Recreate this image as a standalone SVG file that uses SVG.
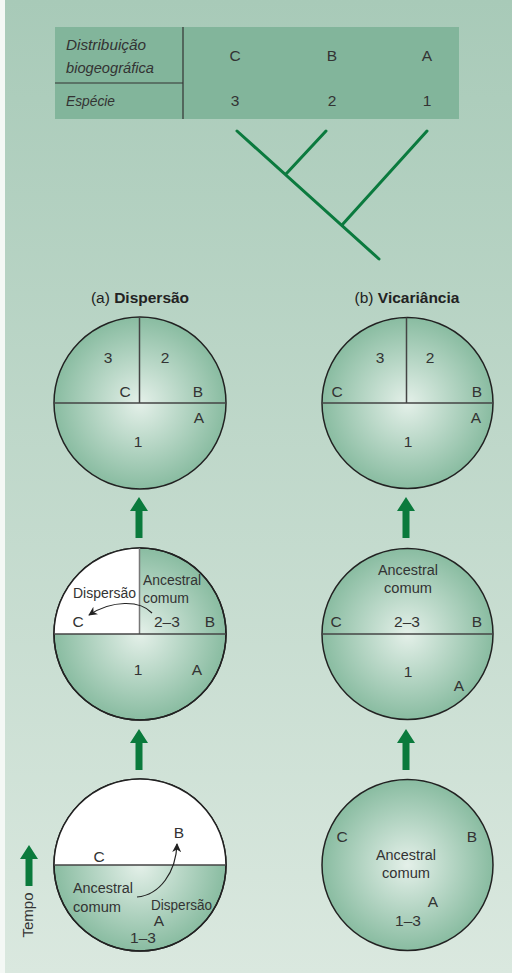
<svg xmlns="http://www.w3.org/2000/svg" width="512" height="973" viewBox="0 0 512 973">
<style>
text{font-family:"Liberation Sans",Arial,sans-serif;fill:#333;font-size:15.5px}
.tb{font-size:15.5px}
.it{font-style:italic}
.m{text-anchor:middle}
.ttl{font-size:15.5px;fill:#222}
.b{font-weight:bold}
.rim{stroke:#222;stroke-width:1.5}
.div{stroke:#444;stroke-width:1.5;fill:none}
.tree{stroke:#0b7a3e;stroke-width:3;stroke-linecap:round;fill:none}
.big{fill:#0a7a3c}
.thin{stroke:#222;stroke-width:1.2;fill:none}
</style>
<defs>
<linearGradient id="bg" x1="0" y1="0" x2="0" y2="1">
<stop offset="0" stop-color="#a8cab8"/>
<stop offset="1" stop-color="#dae8df"/>
</linearGradient>
<radialGradient id="globe" cx="0.5" cy="0.5" r="0.5">
<stop offset="0" stop-color="#e4f0e9"/>
<stop offset="1" stop-color="#89bca1"/>
</radialGradient>
<path id="up" d="M0,0 L9,14 L3.5,14 L3.5,41 L-3.5,41 L-3.5,14 L-9,14 Z"/>
<marker id="ah" viewBox="0 0 10 10" refX="9" refY="5" markerWidth="9" markerHeight="9" markerUnits="userSpaceOnUse" orient="auto">
<path d="M0,0 L10,5 L0,10 L3,5 Z" fill="#222"/>
</marker>
</defs>
<rect x="0" y="0" width="512" height="973" fill="#f4f8f5"/>
<rect x="5" y="0" width="507" height="973" fill="url(#bg)"/>

<g id="table">
<rect x="55" y="27" width="404" height="92" fill="#82b59b"/>
<line x1="183" y1="27" x2="183" y2="119" stroke="#333" stroke-width="1.2"/>
<line x1="55" y1="83" x2="183" y2="83" stroke="#333" stroke-width="1.2"/>
<text class="tb it" x="66" y="50" textLength="80" lengthAdjust="spacingAndGlyphs">Distribuição</text>
<text class="tb it" x="66" y="73" textLength="88" lengthAdjust="spacingAndGlyphs">biogeográfica</text>
<text class="tb it" x="66" y="106" textLength="49" lengthAdjust="spacingAndGlyphs">Espécie</text>
<text class="tb m" x="235" y="61">C</text>
<text class="tb m" x="332" y="61">B</text>
<text class="tb m" x="427" y="61">A</text>
<text class="tb m" x="235" y="106">3</text>
<text class="tb m" x="332" y="106">2</text>
<text class="tb m" x="427" y="106">1</text>
</g>

<g id="cladogram">
<path class="tree" d="M237,131 L379,259 M286,174 L326,131 M342,225 L427,131"/>
</g>

<text class="ttl m" x="140" y="303">(a) <tspan class="b">Dispersão</tspan></text>
<text class="ttl m" x="407" y="303">(b) <tspan class="b">Vicariância</tspan></text>

<g id="a1">
<circle cx="140" cy="403" r="86" fill="url(#globe)" class="rim"/>
<path class="div" d="M139.5,317 V403 M54,403 H226"/>
<text class="m" x="108" y="363">3</text>
<text class="m" x="165" y="363">2</text>
<text class="m" x="125" y="397">C</text>
<text class="m" x="198" y="397">B</text>
<text class="m" x="199" y="423">A</text>
<text class="m" x="138" y="447">1</text>
</g>

<g id="b1">
<circle cx="407.5" cy="403" r="85.5" fill="url(#globe)" class="rim"/>
<path class="div" d="M406.5,317.5 V403 M322,403 H493"/>
<text class="m" x="380" y="363">3</text>
<text class="m" x="430" y="363">2</text>
<text class="m" x="337" y="397">C</text>
<text class="m" x="477" y="397">B</text>
<text class="m" x="476" y="423">A</text>
<text class="m" x="408" y="447">1</text>
</g>

<g id="a2">
<circle cx="140" cy="634" r="86" fill="url(#globe)" class="rim"/>
<path d="M139.5,634 L54,634 A86,86 0 0 1 139.5,548 Z" fill="#fff"/>
<circle cx="140" cy="634" r="86" fill="none" class="rim"/>
<path d="M139.5,548 V634" stroke="#777" stroke-width="1.5"/>
<path class="div" d="M54,634 H226"/>
<text x="143" y="585" textLength="58" lengthAdjust="spacingAndGlyphs">Ancestral</text>
<text x="143" y="603" textLength="46" lengthAdjust="spacingAndGlyphs">comum</text>
<text x="73" y="598" textLength="63" lengthAdjust="spacingAndGlyphs">Dispersão</text>
<text class="m" x="78" y="627">C</text>
<text x="154" y="627">2–3</text>
<text class="m" x="210" y="627">B</text>
<text class="m" x="138" y="675">1</text>
<text class="m" x="197" y="675">A</text>
</g>

<g id="b2">
<circle cx="407.5" cy="634" r="85.5" fill="url(#globe)" class="rim"/>
<path class="div" d="M322,634 H493"/>
<text class="m" x="408" y="575" textLength="60" lengthAdjust="spacingAndGlyphs">Ancestral</text>
<text class="m" x="408" y="593" textLength="48" lengthAdjust="spacingAndGlyphs">comum</text>
<text class="m" x="336" y="627">C</text>
<text class="m" x="407" y="627">2–3</text>
<text class="m" x="477" y="627">B</text>
<text class="m" x="408" y="677">1</text>
<text class="m" x="459" y="691">A</text>
</g>

<g id="a3">
<circle cx="140" cy="865" r="86" fill="url(#globe)" class="rim"/>
<path d="M54,865 A86,86 0 0 1 226,865 Z" fill="#fff"/>
<circle cx="140" cy="865" r="86" fill="none" class="rim"/>
<path class="div" d="M54,865 H226"/>
<text class="m" x="179" y="838">B</text>
<text class="m" x="99" y="862">C</text>
<text x="73" y="893" textLength="60" lengthAdjust="spacingAndGlyphs">Ancestral</text>
<text x="73" y="912" textLength="48" lengthAdjust="spacingAndGlyphs">comum</text>
<text x="151" y="910" textLength="61" lengthAdjust="spacingAndGlyphs">Dispersão</text>
<text class="m" x="159" y="926">A</text>
<text class="m" x="143" y="943">1–3</text>
</g>

<g id="b3">
<circle cx="407.5" cy="865" r="85.5" fill="url(#globe)" class="rim"/>
<text class="m" x="342" y="842">C</text>
<text class="m" x="472" y="842">B</text>
<text class="m" x="406" y="860" textLength="60" lengthAdjust="spacingAndGlyphs">Ancestral</text>
<text class="m" x="406" y="878" textLength="48" lengthAdjust="spacingAndGlyphs">comum</text>
<text class="m" x="433" y="907">A</text>
<text class="m" x="408" y="926">1–3</text>
</g>

<g id="tempo">
<use href="#up" class="big" transform="translate(29,845)"/>
<text x="33" y="915" class="m" transform="rotate(-90 33 915)" textLength="45" lengthAdjust="spacingAndGlyphs">Tempo</text>
</g>

<g id="connectors">
<use href="#up" class="big" transform="translate(139,497)"/>
<use href="#up" class="big" transform="translate(406,497)"/>
<use href="#up" class="big" transform="translate(139,729)"/>
<use href="#up" class="big" transform="translate(406,729)"/>
<path class="thin" d="M152,613 C140,600 112,600 89,615" marker-end="url(#ah)"/>
<path class="thin" d="M137,897 C160,895 176,872 177,844" marker-end="url(#ah)"/>
</g>
</svg>
